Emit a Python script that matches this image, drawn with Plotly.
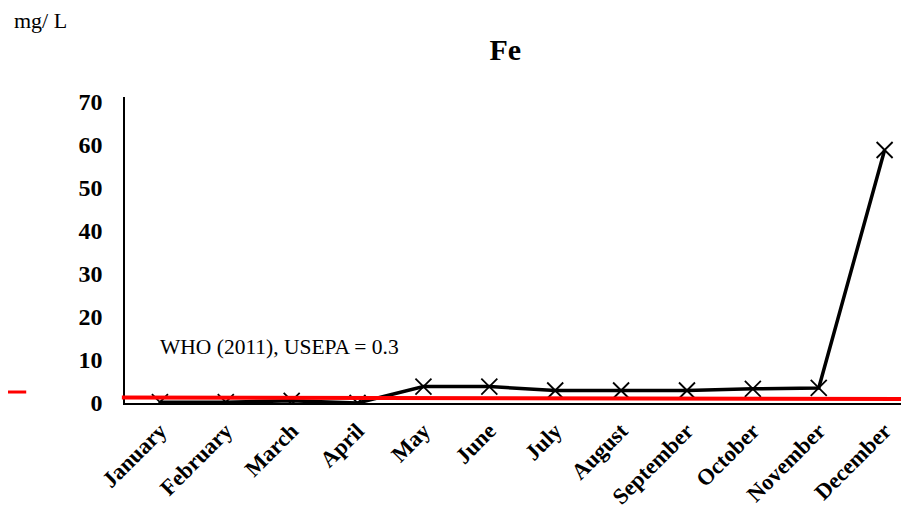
import plotly.graph_objects as go

months = ["January", "February", "March", "April", "May", "June", "July",
          "August", "September", "October", "November", "December"]
fe_values = [0.2, 0.2, 0.5, 0.0, 3.8, 3.8, 2.9, 2.9, 2.9, 3.3, 3.5, 58.7]
y_ticks = [0, 10, 20, 30, 40, 50, 60, 70]
who_line = [1.3, 0.9]  # drawn guideline level (left end, right end)

FONT = "Times New Roman, Liberation Serif, serif"
xpos = list(range(len(months)))

fig = go.Figure()
fig.add_trace(go.Scatter(
    x=xpos, y=fe_values, mode="lines+markers",
    line=dict(color="black", width=3.5),
    marker=dict(symbol="x-thin", size=16, line=dict(color="black", width=1.8)),
    showlegend=False,
))

# guideline line across the plot
fig.add_shape(type="line", xref="paper", yref="y", x0=-0.004, x1=1.0,
              y0=who_line[0], y1=who_line[1],
              line=dict(color="#ff0000", width=4), layer="above")
# red stub at the far left
fig.add_shape(type="line", xref="paper", yref="y", x0=-0.16, x1=-0.126,
              y0=2.55, y1=2.55, line=dict(color="#ff0000", width=3))

fig.add_annotation(text="WHO (2011), USEPA = 0.3", xref="x", yref="y",
                   x=-0.03, y=13, xanchor="left", yanchor="middle",
                   showarrow=False, font=dict(family=FONT, size=21.5, color="black"))
fig.add_annotation(text="mg/ L", xref="paper", yref="paper", x=-0.144, y=1.2516,
                   xanchor="left", yanchor="middle", showarrow=False,
                   font=dict(family=FONT, size=22, color="black"))

# page body has an 8px default margin, so margins are offset by 8px
fig.update_layout(
    width=909, height=510,
    margin=dict(l=117, r=8, t=89, b=115, autoexpand=False),
    paper_bgcolor="white", plot_bgcolor="white",
    title=dict(text="<b>Fe</b>", x=0.485, xref="paper", xanchor="center",
               y=0.9196, yref="container", yanchor="middle",
               font=dict(family=FONT, size=30, color="black")),
    font=dict(family=FONT, color="black"),
    xaxis=dict(range=[-0.53, 11.37], tickmode="array", tickvals=xpos,
               ticktext=["<b>%s</b>" % m for m in months], tickangle=-45,
               showgrid=False, zeroline=False, showline=True, automargin=False,
               linecolor="black", linewidth=1.5, ticks="",
               ticklabelstandoff=4,
               tickfont=dict(family=FONT, size=22.5, color="black")),
    yaxis=dict(range=[0, 71], tickmode="array", tickvals=y_ticks,
               ticktext=["<b>%d</b>" % v for v in y_ticks],
               showgrid=False, zeroline=False, showline=True, automargin=False,
               linecolor="black", linewidth=1.5, ticks="",
               ticklabelstandoff=16,
               tickfont=dict(family=FONT, size=24, color="black")),
)

fig.write_html("out.html")
